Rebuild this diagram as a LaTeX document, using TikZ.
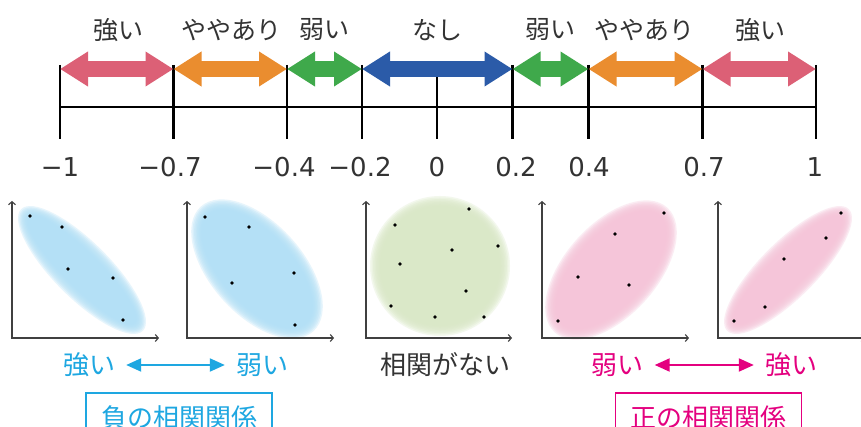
\documentclass[tikz,border=0pt]{standalone}
\usepackage{fontspec}
\setmainfont{Noto Sans CJK JP}
\newfontfamily\numfont{DejaVu Sans}
\usetikzlibrary{arrows.meta}
\definecolor{cPink}{HTML}{DC6076}
\definecolor{cOrange}{HTML}{EA8D2F}
\definecolor{cGreen}{HTML}{3FA94B}
\definecolor{cBlue}{HTML}{2B5BA8}
\definecolor{cText}{HTML}{333333}
\definecolor{cCyan}{HTML}{1EA7E1}
\definecolor{cMag}{HTML}{E4007F}
\definecolor{fBlue}{HTML}{B2E0F6}
\definecolor{fGreen}{HTML}{D9E8C6}
\definecolor{fPink}{HTML}{F5C3D8}
\newcommand{\softell}[6]{%
  \foreach \k in {0,...,7}{%
    \fill[#6, opacity=0.3, rotate around={#5:(#1,#2)}] (#1,#2) ellipse [x radius={#3+6-1.5*\k}, y radius={#4+6-1.5*\k}];
  }%
}
\begin{document}
\begin{tikzpicture}[x=1pt,y=-1pt,
  tickline/.style={line width=2.4pt, black},
  mainline/.style={line width=2.7pt, black},
  dblarr/.style={line width=16pt, {Triangle[width=33pt,length=28pt]}-{Triangle[width=33pt,length=28pt]}},
  toplabel/.style={font=\fontsize{25}{28}\selectfont, text=cText, inner sep=0pt},
  numlabel/.style={font=\numfont\fontsize{26}{30}\selectfont, text=cText, inner sep=0pt},
  axisline/.style={line width=1.1pt, draw=black!75, {Straight Barb[length=3pt,width=7pt]}-{Straight Barb[length=3pt,width=7pt]}},
  dot/.style={circle, fill=black, inner sep=0pt, minimum size=3.6pt},
  bottxt/.style={font=\fontsize{26}{30}\selectfont, inner sep=0pt},
  smallarr/.style={line width=2pt, {Triangle[width=13pt,length=15pt]}-{Triangle[width=13pt,length=15pt]}, shorten <=11pt, shorten >=11pt},
  catbox/.style={draw, line width=1.6pt, font=\fontsize{26}{30}\selectfont, minimum width=186pt, minimum height=50pt, inner sep=0pt}
]
\useasboundingbox (0,0) rectangle (861,427);
\clip (0,0) rectangle (861,427);
\fill[white] (0,0) rectangle (861,427);

% tick positions
\foreach \n/\x in {0/60,1/173.5,2/287,3/362,4/437,5/512.5,6/588.5,7/702.5,8/816}{
  \coordinate (t\n) at (\x,107);
  \coordinate (a\n) at (\x,69);
  \draw[tickline] (\x,65) -- (\x,139);
}
\draw[mainline] (t0) -- (t8);

% double arrows
\draw[dblarr, cPink] (a0) -- (a1);
\draw[dblarr, cOrange] (a1) -- (a2);
\draw[dblarr, cGreen] (a2) -- (a3);
\draw[dblarr, cBlue] (a3) -- (a5);
\draw[dblarr, cGreen] (a5) -- (a6);
\draw[dblarr, cOrange] (a6) -- (a7);
\draw[dblarr, cPink] (a7) -- (a8);

% top labels
\node[toplabel] (l1) at (118,30) {強い};
\node[toplabel] (l2) at (231,30) {ややあり};
\node[toplabel] (l3) at (324,30) {弱い};
\node[toplabel] (l4) at (437,30) {なし};
\node[toplabel] (l5) at (550,30) {弱い};
\node[toplabel] (l6) at (644,30) {ややあり};
\node[toplabel] (l7) at (760,30) {強い};

% numbers
\node[numlabel] (n0) at (60,167) {−1};
\node[numlabel] (n1) at (170,167) {−0.7};
\node[numlabel] (n2) at (284,167) {−0.4};
\node[numlabel] (n3) at (360,167) {−0.2};
\node[numlabel] (n4) at (437,167) {0};
\node[numlabel] (n5) at (516,167) {0.2};
\node[numlabel] (n6) at (589,167) {0.4};
\node[numlabel] (n7) at (704,167) {0.7};
\node[numlabel] (n8) at (815,167) {1};

% scatter fills
\softell{82}{270}{80}{22}{-45}{fBlue}
\softell{257}{269}{78}{40}{-48}{fBlue}
\softell{440}{266}{64}{64}{0}{fGreen}
\softell{611}{270}{78}{40}{48}{fPink}
\softell{788}{270}{80}{22}{45}{fPink}

% axes
\draw[axisline] (12,201) |- (159,338);
\draw[axisline] (187,201) |- (334,338);
\draw[axisline] (366,201) |- (512,338);
\draw[axisline] (542,201) |- (689,338);
\draw[axisline] (718,201) |- (865,338);

% dots
\foreach \x/\y in {30/216,62/227,68/269,113/278,123/320,
  205/217,249/227,232/283,294/273,295/325,
  395/225,400/264,391/306,469/209,452/250,498/246,466/291,435/317,484/317,
  664/213,615/234,578/277,629/285,558/321,
  841/213,826/238,784/259,765/307,734/321}{
  \node[dot] at (\x,\y) {};
}

% bottom labels
\node[bottxt, text=cCyan] (bs) at (89,365) {強い};
\node[bottxt, text=cCyan] (bw) at (262,365) {弱い};
\draw[smallarr, cCyan] (bs) -- (bw);
\node[bottxt, text=cText] (none) at (445,365) {相関がない};
\node[bottxt, text=cMag] (pw) at (617.5,365) {弱い};
\node[bottxt, text=cMag] (ps) at (791,365) {強い};
\draw[smallarr, cMag] (pw) -- (ps);

\node[catbox, draw=cCyan, text=cCyan] (neg) at (179,418) {負の相関関係};
\node[catbox, draw=cMag, text=cMag] (pos) at (708.5,418) {正の相関関係};
\end{tikzpicture}
\end{document}
